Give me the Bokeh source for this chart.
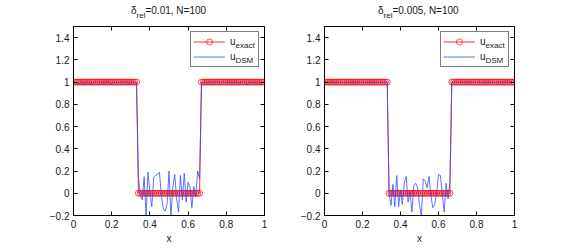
import numpy as np
from bokeh.plotting import figure
from bokeh.layouts import row, column
from bokeh.models import (Range1d, FixedTicker, LinearAxis, Legend, LegendItem, Label, Div)
from bokeh.embed import file_html
from bokeh.resources import INLINE

# ---------------- data ----------------
x_grid = np.linspace(0, 1, 101)

u_exact = [1] * 34 + [0] * 33 + [1] * 34

dsm_left = [
    1.0, 0.995, 0.99, 0.988, 0.997, 0.985, 0.993, 1.0, 0.992, 0.988,
    0.99, 0.997, 1.0, 0.985, 0.978, 0.995, 0.99, 0.997, 1.0, 0.993,
    0.988, 0.995, 1.0, 0.992, 0.997, 0.99, 1.0, 0.995, 0.998, 0.99,
    0.996, 1.0, 0.993, 0.99,
    0.15, -0.02, -0.06, 0.15, -0.20, 0.19, 0.01, -0.12, 0.14, 0.16,
    0.17, 0.19, -0.02, -0.14, -0.16, -0.10, 0.20, -0.21, 0.05, 0.17,
    -0.05, -0.17, 0.16, -0.06, 0.18, -0.08, 0.10, 0.05, -0.13, 0.06,
    -0.03, 0.20, 0.13,
    0.995, 1.0, 0.997, 0.993, 1.0, 0.996, 0.99, 0.998, 1.0, 0.995,
    0.992, 1.0, 0.997, 0.994, 1.0, 0.996, 0.993, 0.998, 1.0, 0.995,
    0.99, 0.997, 1.0, 0.994, 0.985, 0.996, 1.0, 0.993, 0.997, 0.99,
    0.995, 0.988, 0.996, 1.0,
]

dsm_right = [
    1.0, 0.998, 0.996, 0.999, 1.0, 0.997, 0.995, 0.999, 1.0, 0.998,
    0.996, 1.0, 0.997, 0.999, 0.995, 1.0, 0.998, 0.996, 0.999, 1.0,
    0.997, 0.995, 0.999, 1.0, 0.998, 0.996, 1.0, 0.997, 0.999, 0.998,
    1.0, 0.996, 0.999, 0.998,
    0.00, -0.11, 0.08, -0.12, 0.16, -0.12, 0.03, -0.10, 0.09, 0.15,
    -0.08, 0.01, -0.17, 0.07, 0.09, 0.05, -0.11, -0.20, 0.13, 0.11,
    0.05, 0.15, -0.02, -0.13, -0.10, 0.00, 0.17, 0.16, -0.01, -0.17,
    0.09, -0.05, 0.10,
    0.998, 1.0, 0.997, 0.999, 1.0, 0.996, 0.998, 1.0, 0.997, 0.999,
    0.995, 1.0, 0.998, 0.996, 1.0, 0.999, 0.997, 1.0, 0.998, 0.996,
    0.999, 1.0, 0.997, 0.995, 0.999, 1.0, 0.998, 0.996, 1.0, 0.997,
    0.999, 0.998, 1.0, 0.999,
]

x_ticks = [0, 0.2, 0.4, 0.6, 0.8, 1]
x_tick_labels = ["0", "0.2", "0.4", "0.6", "0.8", "1"]
y_ticks = [-0.2, 0, 0.2, 0.4, 0.6, 0.8, 1, 1.2, 1.4]
y_tick_labels = ["\u22120.2", "0", "0.2", "0.4", "0.6", "0.8", "1", "1.2", "1.4"]

titles = ["=0.01, N=100", "=0.005, N=100"]

FONT = "Liberation Sans"
TXT = "#1a1a1a"
TITLE_H = 20


def style_axis(ax, ticks, labels, show_labels=True):
    ax.ticker = FixedTicker(ticks=ticks)
    if show_labels:
        ax.major_label_overrides = {t: l for t, l in zip(ticks, labels)}
    else:
        ax.major_label_overrides = {t: "" for t in ticks}
    ax.major_tick_in = 4
    ax.major_tick_out = 0
    ax.minor_tick_line_color = None
    ax.axis_line_color = "black"
    ax.major_tick_line_color = "black"
    ax.major_label_text_font = FONT
    ax.major_label_text_font_size = "10px"
    ax.major_label_text_color = TXT
    ax.major_label_standoff = 4 if show_labels else 0


def make_title(rest, left_px):
    html = (f'<div style="position:absolute; left:{left_px}px; top:5px; white-space:nowrap; '
            f'font-family:\'{FONT}\'; font-size:10px; line-height:normal; color:{TXT};">'
            f'\u03b4<span style="position:relative; top:4px; font-size:8px;">rel</span>{rest}</div>')
    return Div(text=html, width=284, height=TITLE_H, margin=0,
               styles={"position": "relative", "background": "white"})


def make_plot(dsm, left, right, sub_x):
    p = figure(width=left + right + (191 if left > 60 else 190), height=252 - TITLE_H,
               x_range=Range1d(0, 1), y_range=Range1d(-0.2, 1.5),
               output_backend="svg", toolbar_location=None,
               min_border_left=left, min_border_right=right,
               min_border_top=26 - TITLE_H, min_border_bottom=37)
    p.grid.visible = False
    p.outline_line_color = "black"
    p.background_fill_color = "white"
    p.border_fill_color = "white"

    style_axis(p.xaxis[0], x_ticks, x_tick_labels)
    style_axis(p.yaxis[0], y_ticks, y_tick_labels)
    p.xaxis.axis_label = "x"
    p.xaxis.axis_label_text_font = FONT
    p.xaxis.axis_label_text_font_size = "10px"
    p.xaxis.axis_label_text_font_style = "normal"
    p.xaxis.axis_label_text_color = TXT
    p.xaxis.axis_label_standoff = 2

    ax_r = LinearAxis()
    style_axis(ax_r, y_ticks, y_tick_labels, show_labels=False)
    p.add_layout(ax_r, "right")
    ax_t = LinearAxis()
    style_axis(ax_t, x_ticks, x_tick_labels, show_labels=False)
    p.add_layout(ax_t, "above")

    l_ex = p.line(x_grid, u_exact, line_color="red", line_width=1, line_alpha=0.8)
    c_ex = p.scatter(x_grid, u_exact, marker="circle", size=6, fill_color=None,
                     line_color="red", line_width=1, line_alpha=0.7)
    l_dsm = p.line(x_grid, dsm, line_color="#2a48ff", line_width=1, line_alpha=0.75)

    legend = Legend(items=[LegendItem(label="u", renderers=[l_ex, c_ex]),
                           LegendItem(label="u", renderers=[l_dsm])],
                    location="top_right", margin=5, padding=2, spacing=0,
                    glyph_width=32, glyph_height=15, label_height=15,
                    label_width=26, label_standoff=5,
                    label_text_font=FONT, label_text_font_size="10px",
                    label_text_color=TXT,
                    border_line_color="black", border_line_width=1,
                    background_fill_alpha=0)
    p.add_layout(legend)

    # legend subscripts (screen units: x from frame left, y up from frame bottom)
    for y, t in [(170, "exact"), (155, "DSM")]:
        p.add_layout(Label(x=sub_x, y=y, x_units="screen", y_units="screen", text=t,
                           text_font=FONT, text_font_size="8px", text_color=TXT,
                           text_baseline="middle", text_align="left"))
    return p


p1 = make_plot(dsm_left, 73, 20, 162)
p2 = make_plot(dsm_right, 40, 54, 161)
t1 = make_title(titles[0], 131)
t2 = make_title(titles[1], 94)

layout = column(row(t1, t2, spacing=0), row(p1, p2, spacing=0), spacing=0)
open("out.html", "w").write(file_html(layout, INLINE))
